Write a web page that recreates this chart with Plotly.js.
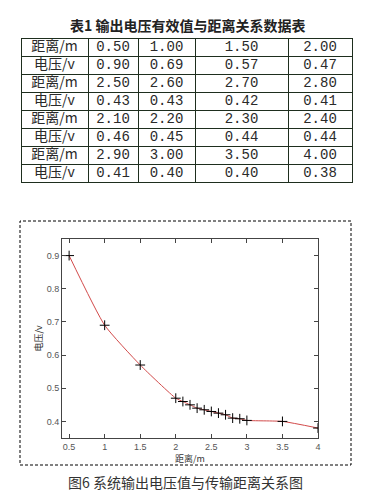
<!DOCTYPE html>
<html>
<head>
<meta charset="utf-8">
<script src="https://cdn.plot.ly/plotly-3.0.1.min.js"></script>
<style>html,body{margin:0;padding:0;background:#fff;}#plot{width:377px;height:501px;}</style>
</head>
<body>
<div id="plot"></div>
<script>
// Table data
const tableTitle = "表1 输出电压有效值与距离关系数据表";
const rowLabels = ["距离/m","电压/v","距离/m","电压/v","距离/m","电压/v","距离/m","电压/v"];
const col1 = ["0.50","0.90","2.50","0.43","2.10","0.46","2.90","0.41"];
const col2 = ["1.00","0.69","2.60","0.43","2.20","0.45","3.00","0.40"];
const col3 = ["1.50","0.57","2.70","0.42","2.30","0.44","3.50","0.40"];
const col4 = ["2.00","0.47","2.80","0.41","2.40","0.44","4.00","0.38"];

// Chart data
const distance = [0.5, 1.0, 1.5, 2.0, 2.1, 2.2, 2.3, 2.4, 2.5, 2.6, 2.7, 2.8, 2.9, 3.0, 3.5, 4.0];
const voltage  = [0.90, 0.69, 0.57, 0.47, 0.46, 0.45, 0.44, 0.435, 0.43, 0.425, 0.42, 0.41, 0.408, 0.403, 0.40, 0.38];
const xTitle = "距离/m";
const yTitle = "电压/v";
const caption = "图6 系统输出电压值与传输距离关系图";

const W = 377, H = 501;
const cols = [rowLabels, col1, col2, col3, col4];
const headerVals = cols.map(c => [c[0]]);
const cellVals = cols.map(c => c.slice(1));
const emptyHeader = cols.map(() => [""]);
const emptyCells = cols.map(c => c.slice(1).map(() => ""));
const fontFam = ["Noto Sans CJK SC", "Liberation Mono", "Liberation Mono", "Liberation Mono", "Liberation Mono"];
const fontSize = [14, 14, 14, 14, 14];
const borderCol = "#1e2e1e";
const clear = "rgba(0,0,0,0)";
const colW = [67, 50, 57, 93, 64];

function tableTrace(hv, cv, yTop, yBot, lineCol, fillCol) {
  return {
    type: "table",
    domain: {x: [21/W, 352/W], y: [1 - yBot/H, 1 - yTop/H]},
    columnwidth: colW,
    header: {values: hv, height: 18, align: "center",
      line: {color: lineCol, width: 1}, fill: {color: fillCol},
      font: {family: fontFam, size: fontSize, color: "#2a2a2a"}},
    cells: {values: cv, height: 18, align: "center",
      line: {color: lineCol, width: 1}, fill: {color: fillCol},
      font: {family: fontFam, size: fontSize, color: "#2a2a2a"}}
  };
}
// grid (borders) and the text layer, shifted so text sits inside each cell
const tableGrid = tableTrace(emptyHeader, emptyCells, 38, 190, borderCol, "#fff");
const tableText = tableTrace(headerVals, cellVals, 32, 184, clear, clear);

const curve = {
  type: "scatter", mode: "lines",
  x: distance, y: voltage,
  line: {color: "#d24a4a", width: 1, shape: "spline", smoothing: 0.5},
  hoverinfo: "skip", xaxis: "x", yaxis: "y"
};
const marks = {
  type: "scatter", mode: "markers",
  x: distance, y: voltage,
  marker: {symbol: "cross-thin", size: 7, color: "#000", line: {color: "#000", width: 1}},
  xaxis: "x", yaxis: "y"
};

const axisCommon = {
  showgrid: false, zeroline: false,
  showline: true, linecolor: "#444", linewidth: 1, mirror: "ticks",
  ticks: "inside", ticklen: 4, tickcolor: "#444",
  tickfont: {family: "Liberation Sans, Arial", size: 9, color: "#555"}
};

const layout = {
  width: W, height: H,
  margin: {l: 0, r: 0, t: 0, b: 0},
  paper_bgcolor: "#fff", plot_bgcolor: "#fff",
  showlegend: false,
  xaxis: Object.assign({}, axisCommon, {
    domain: [62/W, 318/W], range: [0.4, 4], dtick: 0.5, tick0: 0.5,
    anchor: "y",
    title: {text: xTitle, font: {family: "Noto Sans CJK SC", size: 9, color: "#333"}, standoff: 0}
  }),
  yaxis: Object.assign({}, axisCommon, {
    domain: [1 - 438/H, 1 - 239/H], range: [0.35, 0.95], dtick: 0.1, tick0: 0.4,
    anchor: "x",
    title: {text: yTitle, font: {family: "Noto Sans CJK SC", size: 9, color: "#333"}, standoff: 2}
  }),
  shapes: [{
    type: "rect", xref: "paper", yref: "paper",
    x0: 20/W, x1: 351/W, y0: 1 - 465/H, y1: 1 - 221/H,
    line: {color: "#000", width: 1, dash: "3px,2px"}
  }],
  annotations: [
    {text: "<b>" + tableTitle + "</b>", xref: "paper", yref: "paper", x: 187/W, y: 1 - 25/H,
     xanchor: "center", yanchor: "middle", showarrow: false,
     font: {family: "Noto Sans CJK SC", size: 14, color: "#222"}},
    {text: caption, xref: "paper", yref: "paper", x: 185/W, y: 1 - 482/H,
     xanchor: "center", yanchor: "middle", showarrow: false,
     font: {family: "Noto Sans CJK SC", size: 14, color: "#333"}}
  ]
};

Plotly.newPlot("plot", [tableGrid, tableText, curve, marks], layout, {displayModeBar: false, staticPlot: true});
</script>
</body>
</html>
